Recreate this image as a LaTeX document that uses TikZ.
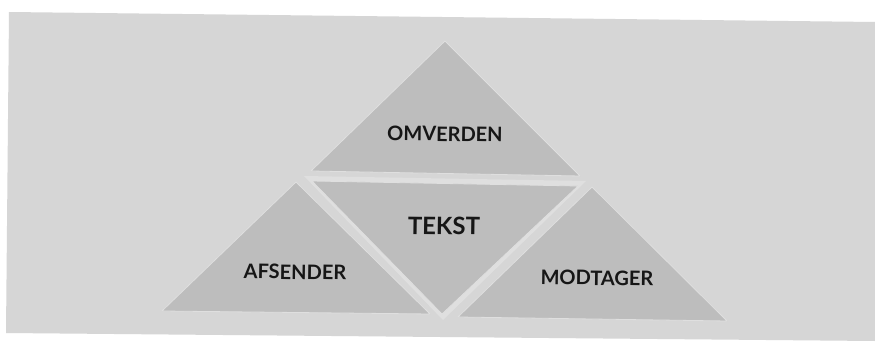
\documentclass[tikz,border=0pt]{standalone}
\usepackage{fontspec}
\setmainfont{Lato}
\definecolor{bgpaper}{HTML}{FFFFFF}
\definecolor{bgsheet}{HTML}{D6D6D6}
\definecolor{gapcol}{HTML}{DFDFDF}
\definecolor{trifill}{HTML}{BDBDBD}
\definecolor{tritext}{HTML}{161616}
\tikzset{
  tri/.style={fill=trifill, draw=gapcol, line width=0.8pt, line join=round},
  lbl/.style={text=tritext, font=\fontsize{20}{22}\selectfont\bfseries, inner sep=0pt},
  lblbig/.style={text=tritext, font=\fontsize{24}{26}\selectfont\bfseries, inner sep=0pt}
}
\begin{document}
\begin{tikzpicture}[x=1pt,y=-1pt]
\useasboundingbox (0,0) rectangle (875,345);
\fill[bgpaper] (0,0) rectangle (875,345);
\fill[bgsheet] (9,12) -- (875,22) -- (875,341) -- (6,333) -- cycle;
% light band around the middle triangle
\fill[gapcol, line join=round] (304,176) -- (586,181) -- (443,320) -- cycle;
% top triangle
\coordinate (oa) at (445,41);
\coordinate (ol) at (311,171);
\coordinate (or) at (580,176);
\filldraw[tri] (oa) -- (ol) -- (or) -- cycle;
% middle inverted triangle
\coordinate (tl) at (312,181);
\coordinate (tr) at (578,186);
\coordinate (tb) at (442,314);
\filldraw[tri] (tl) -- (tr) -- (tb) -- cycle;
% left triangle
\coordinate (aa) at (296,182);
\coordinate (al) at (162,311);
\coordinate (ar) at (430,314);
\filldraw[tri] (aa) -- (al) -- (ar) -- cycle;
% right triangle
\coordinate (ma) at (592,187);
\coordinate (ml) at (458,317);
\coordinate (mr) at (727,321);
\filldraw[tri] (ma) -- (ml) -- (mr) -- cycle;
\node[lbl, rotate=-0.8] (omv) at (445,134) {OMVERDEN};
\node[lblbig, rotate=-0.8] (tek) at (444,226) {TEKST};
\node[lbl, rotate=-0.8] (afs) at (295,272) {AFSENDER};
\node[lbl, rotate=-0.8] (mod) at (597,278) {MODTAGER};
\end{tikzpicture}
\end{document}
